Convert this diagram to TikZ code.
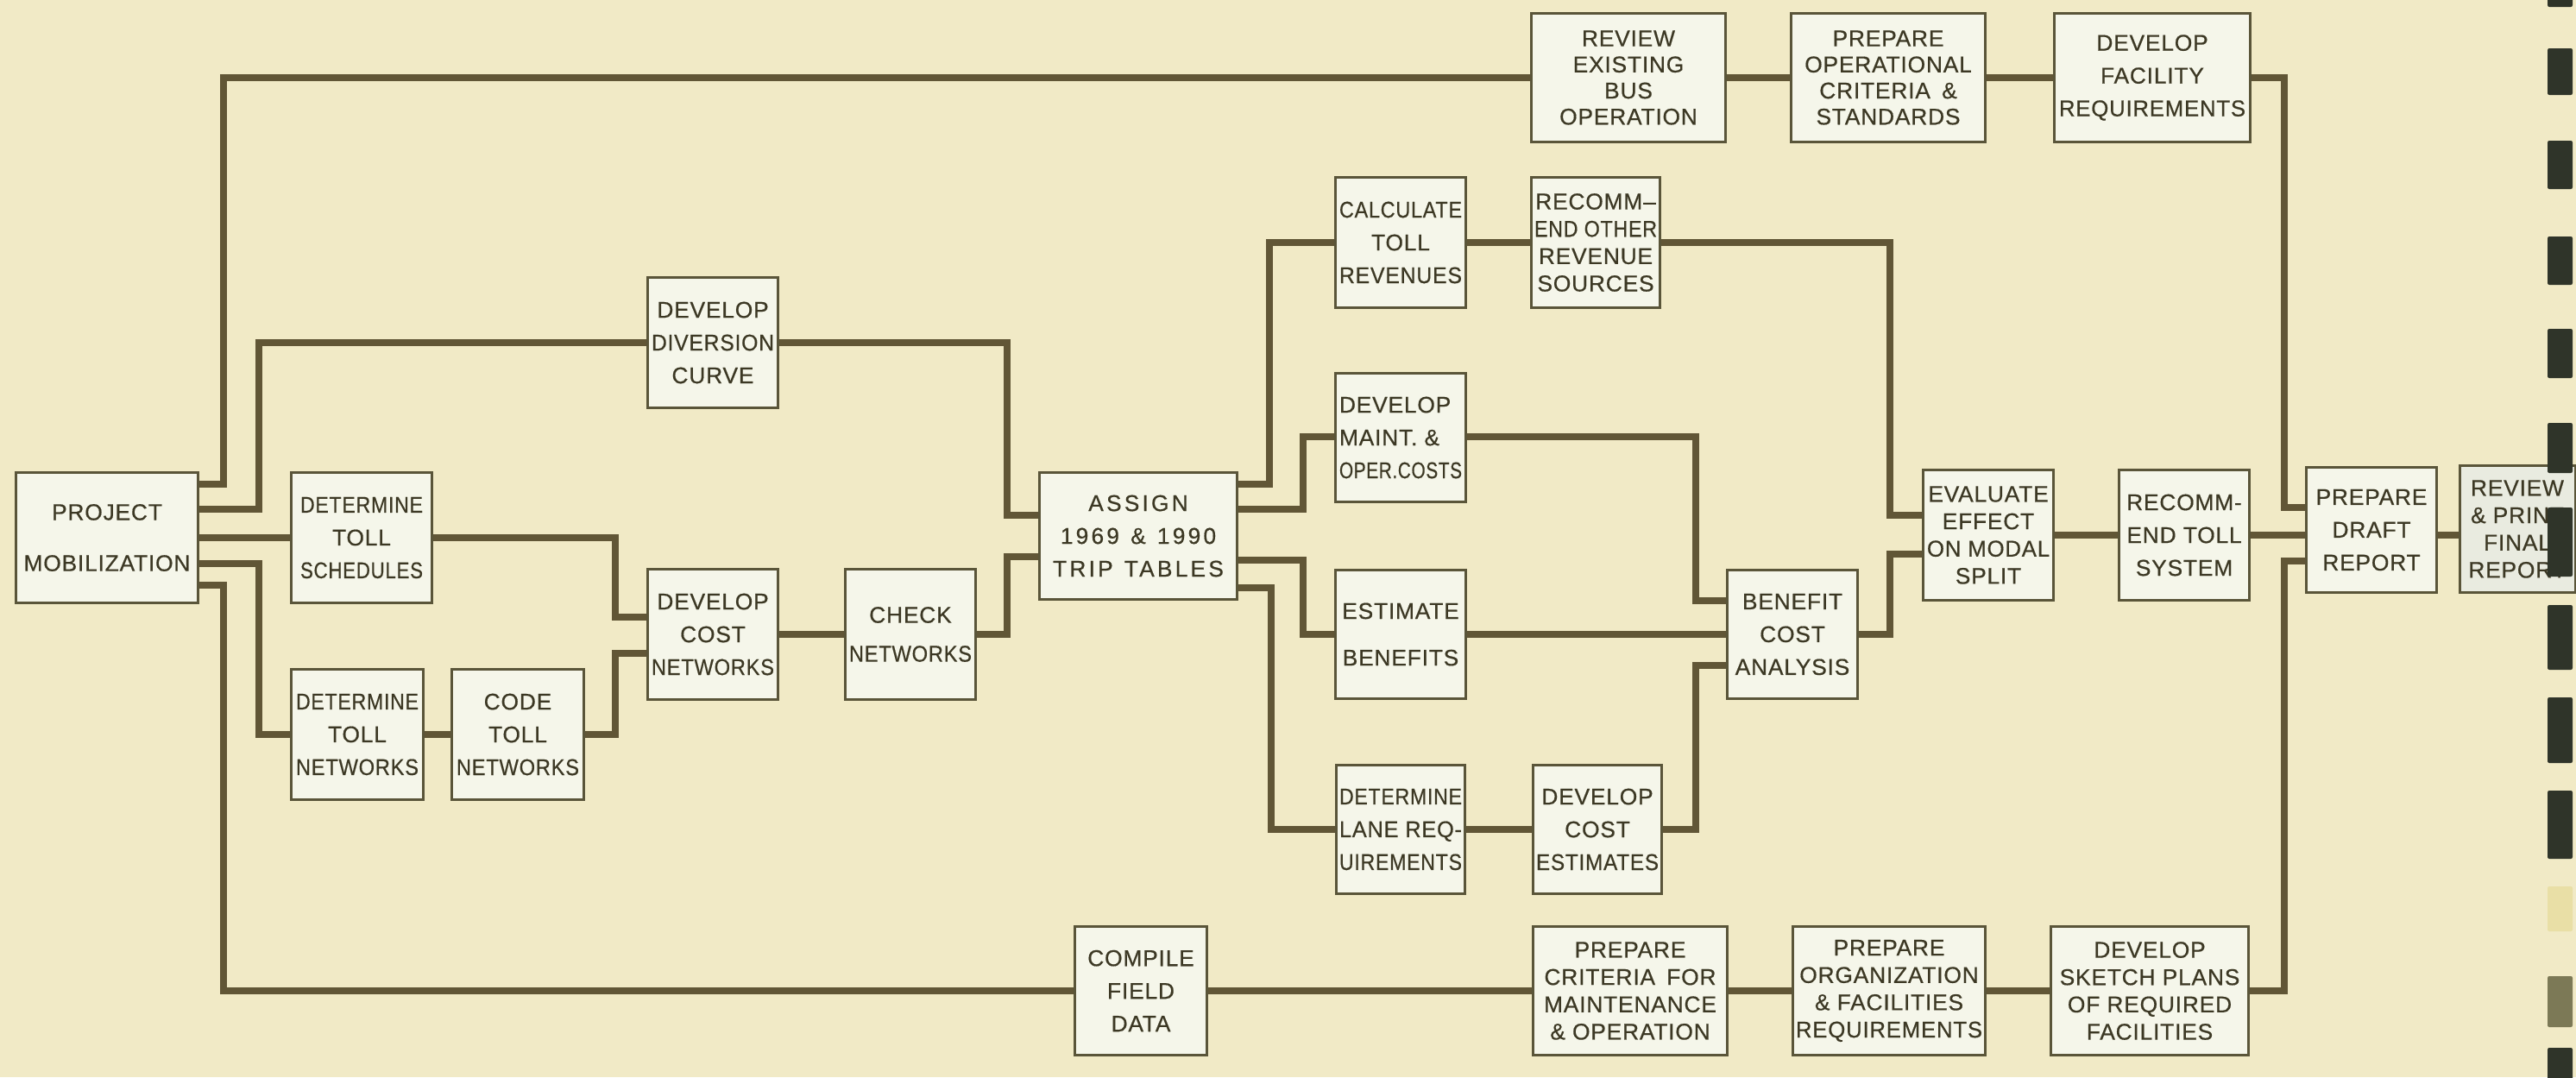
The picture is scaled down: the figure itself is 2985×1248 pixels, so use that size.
\documentclass[tikz,border=0pt]{standalone}
\usepackage{fontspec}
\setmainfont{Liberation Sans}[LetterSpace=3,FakeBold=0.5]
\usepackage{graphicx}
\definecolor{bg}{HTML}{F1EAC6}
\definecolor{boxf}{HTML}{F5F6EA}
\definecolor{boxg}{HTML}{E9EBE0}
\definecolor{linec}{HTML}{615636}
\definecolor{bordc}{HTML}{5A5539}
\definecolor{txtc}{HTML}{3C3824}
\definecolor{ringd}{HTML}{2F3429}
\definecolor{ringp}{HTML}{E9DFA6}
\definecolor{ringg}{HTML}{7C7956}
\newlength\fitmax
\setlength\fitmax{1.42cm}
\newsavebox\fitsb
\newcommand\fitl[1]{\sbox\fitsb{#1}\ifdim\wd\fitsb>\fitmax\resizebox{\fitmax}{\height}{\usebox\fitsb}\else\usebox\fitsb\fi}
\tikzset{
  conn/.style={draw=linec, line width=0.085cm, line join=miter},
  lead/.style={font={\fontsize{7.5pt}{#1}\selectfont}},
  box/.style={draw=bordc, line width=0.03cm, fill=boxf, inner sep=0pt, text=txtc, align=center, lead=10.8pt},
  widebox/.style={execute at begin node={\setlength\fitmax{2.16cm}}},
  sz/.style 2 args={minimum width=#1cm, minimum height=#2cm},
  ring/.style={fill=ringd, rounded corners=0.02cm}
}
\begin{document}
\begin{tikzpicture}[x=0.01cm,y=-0.01cm]
\fill[bg] (0,0) rectangle (2985,1248);
\useasboundingbox (0,0) rectangle (2985,1248);

% ---------------- nodes ----------------
\node[box, widebox, sz={2.10}{1.50}, lead=16.8pt] (pm) at (124,623) {\fitl{PROJECT}\\\fitl{MOBILIZATION}};
\node[box, sz={1.63}{1.51}] (dts) at (419,623) {\fitl{DETERMINE}\\\fitl{TOLL}\\\fitl{SCHEDULES}};
\node[box, sz={1.52}{1.51}] (dtn) at (414,851) {\fitl{DETERMINE}\\\fitl{TOLL}\\\fitl{NETWORKS}};
\node[box, sz={1.52}{1.51}] (ctn) at (600,851) {\fitl{CODE}\\\fitl{TOLL}\\\fitl{NETWORKS}};
\node[box, sz={1.51}{1.51}] (ddc) at (826,397) {\fitl{DEVELOP}\\\fitl{DIVERSION}\\\fitl{CURVE}};
\node[box, sz={1.51}{1.50}] (dcn) at (826,735) {\fitl{DEVELOP}\\\fitl{COST}\\\fitl{NETWORKS}};
\node[box, sz={1.50}{1.50}, lead=12.8pt] (chk) at (1055,735) {\fitl{CHECK}\\\fitl{NETWORKS}};
\node[box, widebox, sz={2.28}{1.47}, execute at begin node={\addfontfeatures{LetterSpace=12}}] (asg) at (1319,621) {ASSIGN\\1969\enspace\&\enspace1990\\TRIP\enspace TABLES};

\node[box, sz={1.50}{1.51}] (ctr) at (1623,281) {\fitl{CALCULATE}\\\fitl{TOLL}\\\fitl{REVENUES}};
\node[box, sz={1.49}{1.51}, lead=9.0pt] (ror) at (1849,281) {\fitl{RECOMM--}\\\fitl{END OTHER}\\\fitl{REVENUE}\\\fitl{SOURCES}};
\node[box, sz={1.50}{1.49}, align=left] (dmo) at (1623,507) {\fitl{DEVELOP}\\\fitl{MAINT. \&}\\\fitl{OPER.COSTS}};
\node[box, sz={1.50}{1.48}, lead=15.4pt] (eb) at (1623,735) {\fitl{ESTIMATE}\\\fitl{BENEFITS}};
\node[box, sz={1.49}{1.48}] (dlr) at (1623,961) {\fitl{DETERMINE}\\\fitl{LANE REQ-}\\\fitl{UIREMENTS}};
\node[box, sz={1.48}{1.48}] (dce) at (1851,961) {\fitl{DEVELOP}\\\fitl{COST}\\\fitl{ESTIMATES}};
\node[box, sz={1.51}{1.48}] (bca) at (2077,735) {\fitl{BENEFIT}\\\fitl{COST}\\\fitl{ANALYSIS}};
\node[box, sz={1.50}{1.50}, lead=9.0pt] (eem) at (2304,620) {\fitl{EVALUATE}\\\fitl{EFFECT}\\\fitl{ON MODAL}\\\fitl{SPLIT}};
\node[box, sz={1.51}{1.50}] (rts) at (2531,620) {\fitl{RECOMM-}\\\fitl{END TOLL}\\\fitl{SYSTEM}};
\node[box, sz={1.51}{1.45}] (pdr) at (2748,614) {\fitl{PREPARE}\\\fitl{DRAFT}\\\fitl{REPORT}};
\node[box, fill=boxg, sz={1.34}{1.46}, lead=9.0pt] (rpf) at (2917,613) {\fitl{REVIEW}\\\fitl{\& PRINT}\\\fitl{FINAL}\\\fitl{REPORT}};

\node[box, widebox, sz={2.25}{1.48}, lead=8.6pt] (reb) at (1887,90) {REVIEW\\EXISTING\\BUS\\OPERATION};
\node[box, widebox, sz={2.25}{1.48}, lead=8.6pt] (poc) at (2188,90) {PREPARE\\OPERATIONAL\\CRITERIA\enspace\&\\STANDARDS};
\node[box, widebox, sz={2.26}{1.48}] (dfr) at (2494,90) {\fitl{DEVELOP}\\\fitl{FACILITY}\\\fitl{REQUIREMENTS}};

\node[box, sz={1.52}{1.49}] (cfd) at (1322,1148) {\fitl{COMPILE}\\\fitl{FIELD}\\\fitl{DATA}};
\node[box, widebox, sz={2.25}{1.49}, lead=9.0pt] (pcm) at (1889,1148) {\fitl{PREPARE}\\\fitl{CRITERIA\enspace FOR}\\\fitl{MAINTENANCE}\\\fitl{\& OPERATION}};
\node[box, widebox, sz={2.22}{1.49}, lead=9.0pt] (pof) at (2189,1148) {\fitl{PREPARE}\\\fitl{ORGANIZATION}\\\fitl{\& FACILITIES}\\\fitl{REQUIREMENTS}};
\node[box, widebox, sz={2.28}{1.49}, lead=9.0pt] (dsp) at (2491,1148) {\fitl{DEVELOP}\\\fitl{SKETCH PLANS}\\\fitl{OF REQUIRED}\\\fitl{FACILITIES}};

% ---------------- connectors ----------------
\path[conn] (pm.east |- 0,561) -| (259,90) -- (reb.west);
\path[conn] (reb.east) -- (poc.west);
\path[conn] (poc.east) -- (dfr.west);
\path[conn] (dfr.east) -| (2647,588) -- (pdr.west |- 0,588);
\path[conn] (pm.east |- 0,590) -| (300,397) -- (ddc.west);
\path[conn] (ddc.east) -| (1167,597) -- (asg.west |- 0,597);
\path[conn] (pm.east |- 0,623) -- (dts.west);
\path[conn] (pm.east |- 0,653) -| (300,851) -- (dtn.west);
\path[conn] (dtn.east) -- (ctn.west);
\path[conn] (pm.east |- 0,678) -| (259,1148) -- (cfd.west);
\path[conn] (cfd.east) -- (pcm.west);
\path[conn] (pcm.east) -- (pof.west);
\path[conn] (pof.east) -- (dsp.west);
\path[conn] (dsp.east) -| (2647,650) -- (pdr.west |- 0,650);
\path[conn] (dts.east) -| (713,715) -- (dcn.west |- 0,715);
\path[conn] (ctn.east) -| (713,757) -- (dcn.west |- 0,757);
\path[conn] (dcn.east) -- (chk.west);
\path[conn] (chk.east) -| (1167,645) -- (asg.west |- 0,645);
\path[conn] (asg.east |- 0,561) -| (1471,281) -- (ctr.west);
\path[conn] (ctr.east) -- (ror.west);
\path[conn] (ror.east) -| (2190,597) -- (eem.west |- 0,597);
\path[conn] (asg.east |- 0,590) -| (1510,506) -- (dmo.west |- 0,506);
\path[conn] (dmo.east |- 0,506) -| (1965,696) -- (bca.west |- 0,696);
\path[conn] (asg.east |- 0,649) -| (1510,735) -- (eb.west);
\path[conn] (eb.east) -- (bca.west);
\path[conn] (asg.east |- 0,681) -| (1473,961) -- (dlr.west);
\path[conn] (dlr.east) -- (dce.west);
\path[conn] (dce.east) -| (1965,771) -- (bca.west |- 0,771);
\path[conn] (bca.east) -| (2190,642) -- (eem.west |- 0,642);
\path[conn] (eem.east) -- (rts.west);
\path[conn] (rts.east) -- (pdr.west |- rts.east);
\path[conn] (pdr.east |- rts.east) -- (rpf.west |- rts.east);

% ---------------- binding marks ----------------
\fill[ring] (2952,-5) rectangle (2981,8);
\fill[ring] (2952,56) rectangle (2981,110);
\fill[ring] (2952,163) rectangle (2981,219);
\fill[ring] (2952,274) rectangle (2981,330);
\fill[ring] (2952,381) rectangle (2981,438);
\fill[ring] (2952,490) rectangle (2981,548);
\fill[ring] (2952,588) rectangle (2981,668);
\fill[ring] (2952,701) rectangle (2981,776);
\fill[ring] (2952,808) rectangle (2981,884);
\fill[ring] (2952,916) rectangle (2981,995);
\fill[ring, fill=ringp] (2952,1027) rectangle (2981,1079);
\fill[ring, fill=ringg] (2952,1131) rectangle (2981,1190);
\fill[ring] (2952,1214) rectangle (2981,1255);
\end{tikzpicture}
\end{document}
